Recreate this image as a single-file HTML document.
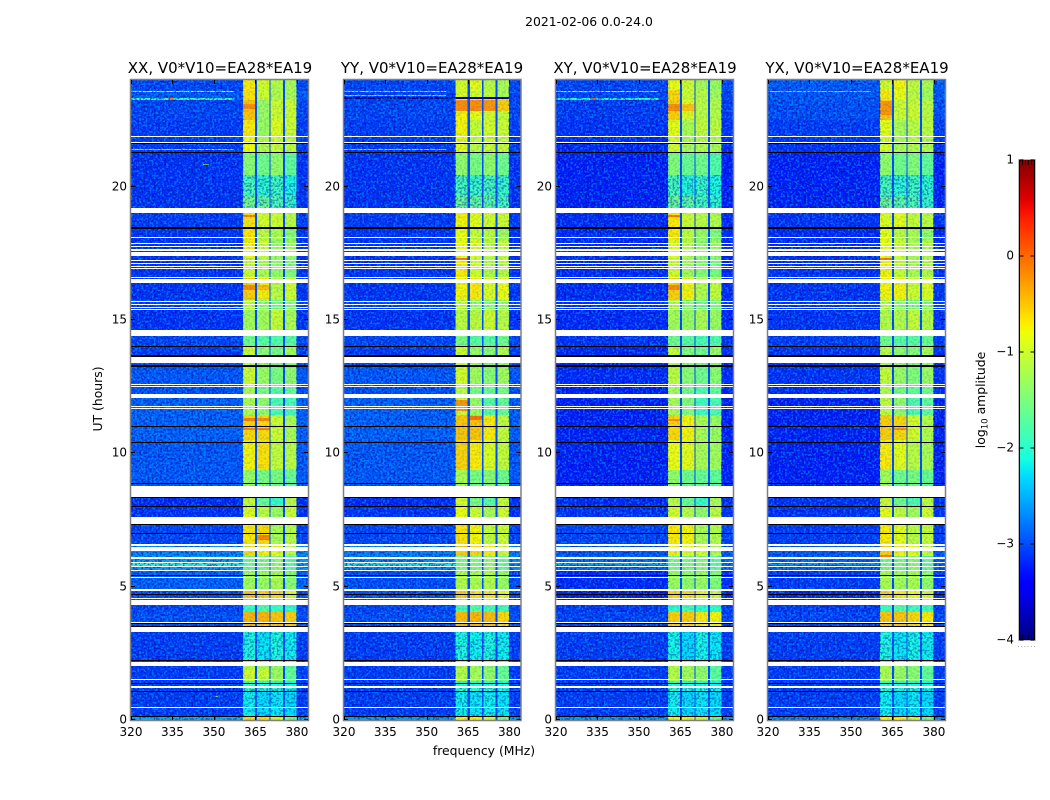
<!DOCTYPE html>
<html>
<head>
<meta charset="utf-8">
<title>2021-02-06 0.0-24.0</title>
<style>
html,body{margin:0;padding:0;background:#fff;}
svg{display:block;}
text{font-family:"DejaVu Sans","Liberation Sans",sans-serif;fill:#000;}
</style>
</head>
<body>
<svg id="figure" xmlns="http://www.w3.org/2000/svg" width="1050" height="800" viewBox="0 0 1050 800">
  <defs>
    <filter id="speckle-light" x="0" y="0" width="100%" height="100%" color-interpolation-filters="sRGB">
      <feTurbulence type="fractalNoise" baseFrequency="0.48" numOctaves="1" seed="4"/>
      <feColorMatrix type="matrix" values="0 0 0 0 0  0 0 0 0 0.68  0 0 0 0 1  10 0 0 0 -5"/>
    </filter>
    <filter id="speckle-dark" x="0" y="0" width="100%" height="100%" color-interpolation-filters="sRGB">
      <feTurbulence type="fractalNoise" baseFrequency="0.48" numOctaves="1" seed="11"/>
      <feColorMatrix type="matrix" values="0 0 0 0 0  0 0 0 0 0.04  0 0 0 0 0.62  10 0 0 0 -5"/>
    </filter>
    <linearGradient id="colorbar-gradient" x1="0" y1="1" x2="0" y2="0"></linearGradient>
  </defs>
  <rect x="0" y="0" width="1050" height="800" fill="#fff"/>
  <text x="589" y="26" font-size="12.4" text-anchor="middle">2021-02-06 0.0-24.0</text>
  <g id="panel-0"><text x="220" y="73" font-size="15" text-anchor="middle">XX, V0*V10=EA28*EA19</text></g>
  <g id="panel-1"><text x="432" y="73" font-size="15" text-anchor="middle">YY, V0*V10=EA28*EA19</text></g>
  <g id="panel-2"><text x="645" y="73" font-size="15" text-anchor="middle">XY, V0*V10=EA28*EA19</text></g>
  <g id="panel-3"><text x="857" y="73" font-size="15" text-anchor="middle">YX, V0*V10=EA28*EA19</text></g>
  <text transform="translate(102,399) rotate(-90)" font-size="12.4" text-anchor="middle">UT (hours)</text>
  <text x="484" y="755" font-size="12.4" text-anchor="middle">frequency (MHz)</text>
  <g id="colorbar">
    <text transform="translate(985,400) rotate(-90)" font-size="12.4" text-anchor="middle">log<tspan font-size="8.6" dy="2.5">10</tspan><tspan dy="-2.5"> amplitude</tspan></text>
  </g>
</svg>
<script>
// ---- chart data: axes ----
const freqTicks = [320, 335, 350, 365, 380];
const hourTicks = [0, 5, 10, 15, 20];
const colorbarTicks = [1, 0, -1, -2, -3, -4];

// Frequency channels (MHz) and which level column each one reads.
// 0 = background, 1-4 = bright bands, -1 = the dim notch between bands.
const channelEdges = [320, 360.5, 364.8, 365.6, 370.1, 370.5, 375, 375.7, 379.8, 384];
const channelColumns = [0, 1, -1, 2, -1, 3, -1, 4, 0];
const notchLevel = -3.0;

// Time segments (UT hours), 37 rows, top to bottom.
const segmentEdges = [24, 23.625, 23.25, 22.5, 21.9, 21.3, 20.44, 19.69, 19.01, 18.45, 18, 17.33, 16.58, 15.75, 15.38, 14.4, 14.03, 13.39, 12.56, 12.08, 11.44, 10.5, 9.38, 8.36, 7.99, 7.35, 6.6, 6.15, 5.63, 4.88, 4.31, 4.05, 3.49, 2.21, 1.46, 1.05, 0.11, 0];

// log10 amplitude per segment: [background, band1, band2, band3, band4]
const xxLevels = [
[-3.05,-0.7,-0.95,-1.15,-1.2],[-2.95,-0.65,-1.0,-1.15,-1.2],[-3.05,-0.5,-1.3,-1.0,-1.0],[-3.1,-0.7,-1.3,-0.9,-1.0],
[-3.1,-0.8,-1.15,-1.0,-1.1],[-3.15,-1.4,-1.55,-1.35,-1.65],[-3.15,-1.8,-1.95,-1.85,-2.05],[-3.15,-1.5,-1.6,-1.75,-1.9],
[-3.1,-0.68,-0.95,-1.0,-1.1],[-3.15,-0.68,-1.1,-1.2,-1.4],[-3.15,-0.75,-1.0,-1.3,-1.25],[-3.15,-1.0,-1.2,-1.35,-1.45],
[-3.15,-0.55,-0.72,-1.1,-0.95],[-3.05,-1.1,-1.35,-1.5,-1.4],[-3.15,-1.25,-1.25,-1.05,-1.2],[-3.05,-1.55,-1.7,-1.75,-1.7],
[-3.1,-1.0,-1.4,-1.5,-1.25],[-2.95,-1.0,-1.3,-1.5,-1.35],[-3.0,-1.2,-1.5,-1.7,-1.6],[-2.9,-1.2,-1.35,-1.8,-1.8],
[-2.9,-0.6,-0.62,-1.0,-1.2],[-2.95,-0.75,-0.65,-1.05,-1.1],[-2.95,-1.3,-1.5,-1.5,-1.6],[-3.2,-1.05,-1.6,-1.9,-1.1],
[-3.15,-0.9,-1.1,-1.3,-1.0],[-3.05,-0.68,-0.62,-1.2,-1.1],[-2.7,-0.62,-0.75,-0.8,-1.1],[-2.6,-1.6,-1.5,-1.4,-1.7],
[-2.9,-1.25,-1.3,-1.2,-1.4],[-3.0,-0.5,-0.55,-0.6,-0.9],[-3.05,-1.9,-1.75,-1.9,-1.9],[-3.0,-0.42,-0.42,-0.5,-0.55],
[-3.1,-2.05,-2.2,-2.05,-2.15],[-3.1,-1.1,-1.2,-1.3,-1.65],[-3.1,-1.9,-2.0,-2.0,-2.1],[-3.1,-2.15,-2.25,-2.2,-2.25],
[-2.5,-0.65,-0.65,-0.9,-1.5]];
const yyLevels = [
[-3.05,-0.95,-0.85,-1.1,-1.2],[-3.05,-0.9,-0.95,-1.05,-1.2],[-3.05,-0.75,-0.85,-0.95,-1.05],[-3.1,-0.75,-1.05,-0.95,-1.0],
[-3.1,-0.85,-1.1,-1.0,-1.05],[-3.15,-1.35,-1.5,-1.35,-1.55],[-3.15,-1.8,-1.9,-1.8,-1.9],[-3.15,-1.55,-1.6,-1.65,-1.8],
[-3.1,-0.75,-0.85,-0.95,-1.0],[-3.15,-0.8,-1.05,-1.1,-1.25],[-3.15,-0.8,-0.9,-1.1,-1.05],[-3.15,-0.72,-1.0,-1.15,-1.1],
[-3.15,-0.75,-0.7,-0.9,-0.8],[-3.05,-1.1,-1.3,-1.4,-1.3],[-3.15,-1.1,-1.1,-1.0,-1.1],[-3.05,-1.5,-1.7,-1.7,-1.55],
[-3.1,-1.0,-1.3,-1.4,-1.15],[-2.95,-0.95,-1.25,-1.4,-1.25],[-3.0,-1.1,-1.5,-1.6,-1.5],[-2.9,-1.0,-1.3,-1.7,-1.6],
[-2.9,-0.5,-0.5,-0.7,-1.05],[-2.95,-0.58,-0.7,-0.9,-1.05],[-2.95,-1.2,-1.5,-1.4,-1.55],[-3.2,-0.95,-1.5,-1.7,-1.05],
[-3.15,-0.8,-1.0,-1.2,-0.95],[-3.05,-0.66,-0.75,-1.05,-1.0],[-2.75,-0.55,-0.6,-0.7,-0.95],[-2.7,-1.5,-1.5,-1.35,-1.6],
[-3.0,-1.15,-1.2,-1.15,-1.3],[-3.0,-0.55,-0.65,-0.7,-0.85],[-3.05,-1.8,-1.7,-1.8,-1.8],[-3.0,-0.45,-0.42,-0.45,-0.6],
[-3.1,-2.05,-2.15,-2.05,-2.15],[-3.1,-1.15,-1.25,-1.35,-1.6],[-3.1,-1.95,-2.0,-2.0,-2.05],[-3.1,-2.15,-2.2,-2.15,-2.2],
[-2.6,-0.75,-0.75,-1.0,-1.5]];
const xyLevels = [
[-3.05,-0.8,-1.0,-1.2,-1.3],[-3.05,-0.6,-1.0,-1.1,-1.25],[-3.1,-0.55,-0.9,-1.1,-1.15],[-3.15,-0.85,-1.2,-1.05,-1.1],
[-3.2,-0.95,-1.2,-1.15,-1.2],[-3.25,-1.45,-1.6,-1.55,-1.75],[-3.25,-1.8,-2.0,-1.9,-2.05],[-3.25,-1.55,-1.65,-1.8,-1.95],
[-3.2,-0.7,-1.0,-1.1,-1.15],[-3.2,-0.7,-1.1,-1.3,-1.45],[-3.2,-0.85,-1.1,-1.35,-1.3],[-3.2,-1.0,-1.25,-1.4,-1.5],
[-3.2,-0.55,-0.75,-1.15,-1.05],[-3.15,-1.15,-1.4,-1.5,-1.45],[-3.2,-1.25,-1.3,-1.2,-1.3],[-3.15,-1.55,-1.7,-1.8,-1.75],
[-3.2,-1.05,-1.45,-1.55,-1.3],[-3.2,-1.1,-1.4,-1.55,-1.4],[-3.25,-1.25,-1.55,-1.75,-1.65],[-3.25,-1.2,-1.45,-1.85,-1.8],
[-3.25,-0.6,-0.75,-1.2,-1.3],[-3.25,-0.8,-0.85,-1.2,-1.25],[-3.25,-1.35,-1.55,-1.6,-1.65],[-3.2,-1.1,-1.6,-1.9,-1.2],
[-3.15,-0.95,-1.15,-1.35,-1.1],[-3.05,-0.7,-0.75,-1.2,-1.15],[-2.95,-0.75,-0.85,-0.95,-1.15],[-2.85,-1.55,-1.5,-1.45,-1.7],
[-3.2,-1.3,-1.35,-1.3,-1.45],[-3.25,-0.6,-0.65,-0.8,-1.0],[-3.1,-1.95,-1.8,-1.95,-1.95],[-3.05,-0.55,-0.55,-0.7,-0.75],
[-3.1,-2.1,-2.25,-2.1,-2.2],[-3.1,-1.15,-1.25,-1.35,-1.7],[-3.1,-1.95,-2.05,-2.05,-2.15],[-3.1,-2.15,-2.25,-2.2,-2.25],
[-2.6,-0.8,-0.8,-1.0,-1.6]];
const yxLevels = [
[-2.95,-0.95,-0.75,-1.05,-1.2],[-2.95,-0.7,-0.8,-1.1,-1.25],[-3.0,-0.5,-1.0,-1.0,-1.1],[-3.1,-0.85,-1.2,-1.1,-1.1],
[-3.15,-0.95,-1.2,-1.15,-1.15],[-3.25,-1.35,-1.55,-1.45,-1.65],[-3.25,-1.8,-1.95,-1.85,-1.95],[-3.25,-1.55,-1.65,-1.75,-1.9],
[-3.15,-0.9,-0.85,-1.05,-1.1],[-3.2,-0.85,-1.1,-1.2,-1.35],[-3.2,-0.85,-1.0,-1.2,-1.15],[-3.15,-0.75,-1.05,-1.2,-1.15],
[-3.15,-0.75,-0.75,-1.0,-0.9],[-3.1,-1.15,-1.35,-1.45,-1.35],[-3.15,-1.15,-1.15,-1.05,-1.15],[-3.1,-1.55,-1.7,-1.7,-1.6],
[-3.15,-1.1,-1.35,-1.45,-1.2],[-3.15,-1.05,-1.3,-1.45,-1.3],[-3.2,-1.15,-1.5,-1.65,-1.55],[-3.25,-1.05,-1.35,-1.75,-1.65],
[-3.25,-0.55,-0.6,-0.95,-1.15],[-3.25,-0.7,-0.85,-1.1,-1.2],[-3.25,-1.25,-1.55,-1.5,-1.6],[-3.15,-1.0,-1.55,-1.75,-1.1],
[-3.15,-0.85,-1.05,-1.25,-1.0],[-3.1,-0.7,-0.85,-1.1,-1.05],[-2.95,-0.55,-0.75,-0.85,-1.05],[-2.9,-1.5,-1.5,-1.4,-1.65],
[-3.1,-1.2,-1.25,-1.2,-1.35],[-3.2,-0.6,-0.7,-0.8,-0.95],[-3.1,-1.85,-1.7,-1.85,-1.85],[-3.05,-0.5,-0.5,-0.6,-0.7],
[-3.1,-2.05,-2.2,-2.1,-2.15],[-3.1,-1.2,-1.3,-1.4,-1.65],[-3.1,-1.95,-2.0,-2.05,-2.1],[-3.1,-2.15,-2.25,-2.2,-2.25],
[-2.7,-0.75,-0.75,-1.0,-1.55]];

// Narrow features: [hourTop, hourBottom, freqStart, freqEnd, level]
const xxStreaks = [
[23.6,23.55,320,357,-0.95],[23.34,23.25,320,357,-1.9],[21.43,21.38,320,357,-1.3],[23.34,23.25,333.5,335.5,-0.1],
[20.85,20.82,346,348,-1.0],[23.1,22.9,360.5,364.8,-0.2],[18.94,18.86,360.5,364.8,-0.15],[16.3,16.13,360.5,364.8,-0.2],
[16.3,16.13,365.6,370.1,-0.45],[11.32,11.2,360.5,364.8,-0.15],[11.32,11.2,365.6,370.1,-0.2],[10.95,10.87,360.5,364.8,-0.15],
[10.95,10.87,365.6,370.1,-0.15],[6.94,6.75,365.6,370.1,-0.15],[1.9,1.6,360.5,364.8,-0.95],[1.9,1.6,365.6,370.1,-1.0],[0.9,0.85,350.5,351.5,-0.6],
[5.9,5.78,320,360.5,-2.05]];
const yyStreaks = [
[23.6,23.55,320,357,-1.1],[23.36,23.3,320,380,-4.5],[23.45,23.4,320,357,-1.5],[21.43,21.38,320,357,-1.5],
[23.25,22.85,360.5,364.8,-0.2],[23.25,22.85,365.6,370.1,-0.2],[23.25,22.85,370.5,375,-0.25],[23.25,22.85,375.7,379.8,-0.55],
[17.33,17.25,360.5,364.8,-0.1],[11.4,11.25,365.6,370.1,-0.05],[12.0,11.6,360.5,364.8,-0.25],[5.9,5.78,320,360.5,-2.2]];
const xyStreaks = [
[23.6,23.55,320,357,-1.2],[23.34,23.25,320,357,-2.0],[23.34,23.25,332.5,334.5,0.1],[23.1,22.85,360.5,364.8,-0.2],
[23.1,22.85,365.6,370.1,-0.5],[18.94,18.86,360.5,364.8,-0.1],[16.3,16.13,360.5,364.8,-0.2],[11.3,11.2,360.5,364.8,-0.2],[5.9,5.8,320,360.5,-2.5]];
const yxStreaks = [
[23.6,23.55,320,357,-2.0],[23.2,22.7,360.5,364.8,-0.25],[17.33,17.25,360.5,364.8,-0.1],[10.95,10.87,365.6,370.1,-0.2],[6.2,6.12,360.5,364.8,-0.15],[5.9,5.8,320,360.5,-2.6]];

// Flagged-out time ranges, drawn blank: [hourTop, hourBottom]
const maskedSpans = [
[21.9,21.86],[21.69,21.64],[19.2,19.01],[18.12,18.09],[17.89,17.85],[17.79,17.75],[17.65,17.6],[17.56,17.41],[17.25,17.21],
[17.15,17.11],[17.03,16.99],[16.94,16.9],[16.62,16.59],[16.54,16.4],[15.71,15.68],[15.6,15.56],[15.5,15.46],[15.4,15.36],
[14.63,14.4],[13.61,13.39],[12.6,12.56],[12.53,12.49],[12.23,12.08],[11.79,11.75],[11.71,11.67],[8.79,8.37],[7.61,7.51],
[7.49,7.35],[6.6,6.51],[6.48,6.33],[6.11,6.05],[5.94,5.9],[5.78,5.74],[5.63,5.59],[5.37,5.34],[4.92,4.85],[4.56,4.53],
[4.51,4.31],[3.68,3.63],[3.49,3.3],[2.19,2.04],[1.54,1.5],[1.29,1.21],[0.49,0.45]];
// Zero-amplitude time ranges, drawn black: [hourTop, hourBottom]
const zeroSpans = [
[21.63,21.6],[21.3,21.26],[18.48,18.41],[14.04,14.0],[13.67,13.63],[13.32,13.24],[11.01,10.99],[10.43,10.4],[8.88,8.84],
[8.35,8.31],[8.03,7.97],[7.34,7.31],[7.01,6.99],[5.45,5.43],[4.73,4.7],[3.62,3.59],[3.52,3.5],[2.24,2.2],[1.4,1.36],[1.08,1.05],[0.14,0.1]];
// Time ranges where the bright bands themselves look mottled: [hourTop, hourBottom]
const mottledBandSpans = [[20.44,19.2],[3.3,2.2],[1.2,0.11]];

const panelLevels = [xxLevels, yyLevels, xyLevels, yxLevels];
const panelStreaks = [xxStreaks, yyStreaks, xyStreaks, yxStreaks];
const panelLefts = [131, 344, 556, 768];
const panelRights = [308, 520.5, 733, 945];

// ---- helpers ----
const SVG_NS = 'http://www.w3.org/2000/svg';
const plotTop = 80, plotBottom = 720;
const cbarLeft = 1019.5, cbarRight = 1034.5, cbarTop = 160, cbarBottom = 640;
function yOf(h) { return Math.round(plotBottom - h * (plotBottom - plotTop) / 24); }
function cbarY(v) { return cbarBottom - (v + 4) / 5 * (cbarBottom - cbarTop); }
function ramp(t, pts) {
  for (let i = 1; i < pts.length; i++) {
    if (t <= pts[i][0]) {
      const a = pts[i - 1], b = pts[i];
      return a[1] + (b[1] - a[1]) * (t - a[0]) / (b[0] - a[0]);
    }
  }
  return pts[pts.length - 1][1];
}
function jet(level) {
  const t = Math.min(1, Math.max(0, (level + 4) / 5));
  const r = ramp(t, [[0,0],[0.35,0],[0.66,1],[0.89,1],[1,0.5]]);
  const g = ramp(t, [[0,0],[0.125,0],[0.375,1],[0.64,1],[0.91,0],[1,0]]);
  const b = ramp(t, [[0,0.5],[0.11,1],[0.34,1],[0.65,0],[1,0]]);
  return 'rgb(' + Math.round(r * 255) + ',' + Math.round(g * 255) + ',' + Math.round(b * 255) + ')';
}
function make(parent, tag, attrs, text) {
  const node = document.createElementNS(SVG_NS, tag);
  for (const k in attrs) node.setAttribute(k, attrs[k]);
  if (text !== undefined) node.textContent = text;
  parent.appendChild(node);
  return node;
}

// ---- panels ----
panelLevels.forEach(function (levels, p) {
  const g = document.getElementById('panel-' + p);
  const left = panelLefts[p], right = panelRights[p];
  const xOf = function (f) { return left + (f - 320) * (right - left) / 64; };
  const crisp = 'crispEdges';

  // heatmap cells
  levels.forEach(function (row, s) {
    const y0 = yOf(segmentEdges[s]), y1 = yOf(segmentEdges[s + 1]);
    channelColumns.forEach(function (col, c) {
      const level = col < 0 ? notchLevel : row[col];
      const x0 = xOf(channelEdges[c]), x1 = xOf(channelEdges[c + 1]);
      const cell = make(g, 'rect', {x: x0, y: y0, width: x1 - x0, height: y1 - y0, fill: jet(level), 'shape-rendering': crisp});
      
      
    });
  });

  // narrow features
  panelStreaks[p].forEach(function (st) {
    const y0 = yOf(st[0]), x0 = xOf(st[2]);
    const streak = make(g, 'rect', {x: x0, y: y0, width: xOf(st[3]) - x0, height: Math.max(1, yOf(st[1]) - y0), fill: jet(st[4]), 'shape-rendering': crisp});
    
    
  });

  // noise grain: [x start, x end, y start, y end, opacity]
  const bandStart = xOf(360.5), bandEnd = xOf(379.8);
  const grainAreas = [[left, bandStart, plotTop, plotBottom, 0.5], [bandEnd, right, plotTop, plotBottom, 0.45], [bandStart, bandEnd, plotTop, plotBottom, 0.1]];
  mottledBandSpans.forEach(function (sp) {
    grainAreas.push([bandStart, bandEnd, yOf(sp[0]), yOf(sp[1]), 0.3]);
  });
  grainAreas.forEach(function (a) {
    const light = make(g, 'rect', {x: a[0], y: a[2], width: a[1] - a[0], height: a[3] - a[2], filter: 'url(#speckle-light)', opacity: a[4]});
    
    
    const dark = make(g, 'rect', {x: a[0], y: a[2], width: a[1] - a[0], height: a[3] - a[2], filter: 'url(#speckle-dark)', opacity: a[4]});
    
    
  });

  // flagged rows
  maskedSpans.forEach(function (sp) {
    const y0 = yOf(sp[0]);
    const gap = make(g, 'rect', {x: left, y: y0, width: right - left, height: Math.max(1, yOf(sp[1]) - y0), fill: '#fff', 'shape-rendering': crisp});
    
    
  });
  zeroSpans.forEach(function (sp) {
    const y0 = yOf(sp[0]);
    const line = make(g, 'rect', {x: left, y: y0, width: right - left, height: Math.max(1, yOf(sp[1]) - y0), fill: '#000', 'shape-rendering': crisp});
    
    
  });

  // frame
  const frame = make(g, 'rect', {x: left - 0.5, y: plotTop - 0.5, width: right - left + 1, height: plotBottom - plotTop + 1, fill: 'none', stroke: '#808080', 'stroke-width': 1.5});
  
  

  // x ticks
  freqTicks.forEach(function (f) {
    const x = Math.round(xOf(f)) + 0.5;
    const bottom = make(g, 'path', {d: 'M' + x + ' ' + plotBottom + 'V' + (plotBottom - 4) + 'M' + x + ' ' + plotTop + 'V' + (plotTop + 4), stroke: '#000', 'stroke-width': 1, fill: 'none'});
    
    
    const label = make(g, 'text', {x: xOf(f), y: 736, 'font-size': 12, 'text-anchor': 'middle'}, String(f));
    
    
  });
  // y ticks
  hourTicks.forEach(function (h) {
    const y = yOf(h) - 0.5;
    const tick = make(g, 'path', {d: 'M' + left + ' ' + y + 'H' + (left + 4) + 'M' + right + ' ' + y + 'H' + (right - 4), stroke: '#000', 'stroke-width': 1, fill: 'none'});
    
    
    const label = make(g, 'text', {x: left - 4, y: y + 4, 'font-size': 12, 'text-anchor': 'end'}, String(h));
    
    
  });
});

// ---- colour bar ----
const gradient = document.getElementById('colorbar-gradient');
for (let i = 0; i <= 50; i++) {
  make(gradient, 'stop', {offset: (i * 2) + '%', 'stop-color': jet(-4 + i / 10)});
}
const cbar = document.getElementById('colorbar');
const cbFill = make(cbar, 'rect', {x: cbarLeft, y: cbarTop, width: cbarRight - cbarLeft, height: cbarBottom - cbarTop, fill: 'url(#colorbar-gradient)'});


const cbOutline = make(cbar, 'rect', {x: cbarLeft - 1, y: cbarTop - 0.5, width: cbarRight - cbarLeft + 2, height: cbarBottom - cbarTop + 1, fill: 'none', stroke: '#bbb', 'stroke-width': 1});


const cbSides = make(cbar, 'path', {d: 'M' + cbarLeft + ' ' + cbarTop + 'V' + cbarBottom + 'M' + cbarRight + ' ' + cbarTop + 'V' + cbarBottom, stroke: '#000', 'stroke-width': 1, fill: 'none'});


colorbarTicks.forEach(function (v) {
  const y = cbarY(v);
  const tick = make(cbar, 'path', {d: 'M' + cbarLeft + ' ' + y + 'h4M' + cbarRight + ' ' + y + 'h-4', stroke: '#000', 'stroke-width': 1, fill: 'none'});
  
  
  const label = make(cbar, 'text', {x: 1014, y: y + 3.5, 'font-size': 12, 'text-anchor': 'end'}, String(v).replace('-', '\u2212'));
  
  
});
for (let i = 0; i < 5; i++) {
  const mx = 1022.5 + i * 3;
  const minor = make(cbar, 'path', {d: 'M' + mx + ' ' + cbarTop + 'v5M' + mx + ' ' + cbarBottom + 'v-5', stroke: '#000', 'stroke-width': 0.8, fill: 'none'});
  
  
}
for (let i = 0; i < 6; i++) {
  const dot = make(cbar, 'rect', {x: 1018 + i * 3.2, y: 646, width: 1, height: 1, fill: '#aaa'});
  
  
}
</script>
</body>
</html>
